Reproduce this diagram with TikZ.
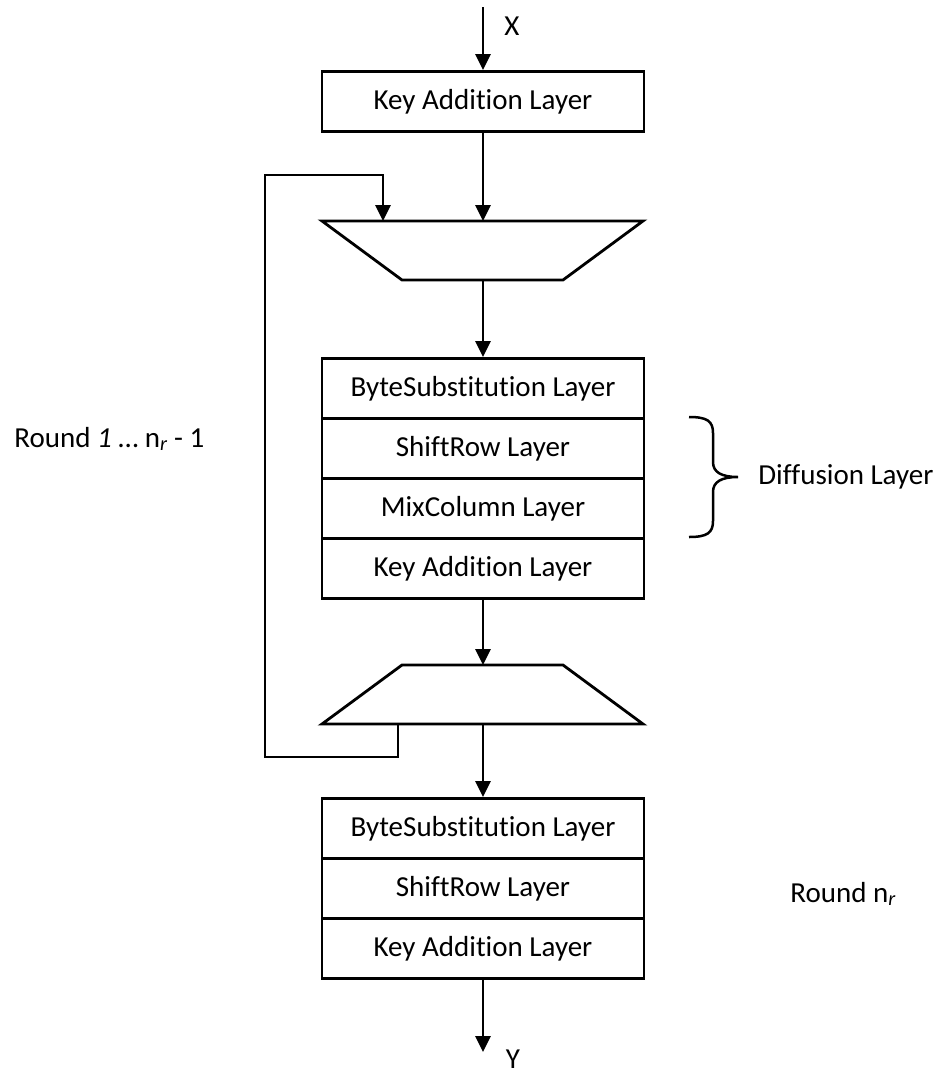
\documentclass[tikz,border=0pt]{standalone}
\usepackage{fontspec}
\setmainfont{Carlito}[Ligatures=NoCommon]
\usetikzlibrary{arrows.meta}
\begin{document}
\begin{tikzpicture}[x=1pt,y=-1pt, line width=2.8pt,
  layer/.style={draw, minimum width=322pt, minimum height=60pt, inner sep=0pt, font=\fontsize{29}{34}\selectfont, anchor=north},
  lbl/.style={font=\fontsize{29}{34}\selectfont, inner sep=0pt},
  arr/.style={-{Triangle[length=16pt,width=15pt]}},
  mux/.style={draw, line join=miter}]
\useasboundingbox (0,0) rectangle (941,1074);

% input
\coordinate (xin) at (483,7);
\node[lbl, anchor=base] (xlab) at (512,35) {X};
\node[layer] (k0) at (483,70) {Key Addition Layer};

% first trapezoid (mux)
\coordinate (t1top) at (483,221);
\coordinate (t1fb) at (383,221);
\coordinate (t1bot) at (483,280);
\draw[mux] (322,221) -- (643,221) -- (563,280) -- (402,280) -- cycle;

% round 1 .. nr-1
\node[layer] (b1) at (483,357) {ByteSubstitution Layer};
\node[layer] (s1) at (483,417) {ShiftRow Layer};
\node[layer] (m1) at (483,477) {MixColumn Layer};
\node[layer] (k1) at (483,537) {Key Addition Layer};

% second trapezoid (demux)
\coordinate (t2top) at (483,665);
\coordinate (t2bot) at (483,724);
\coordinate (t2fb) at (398,724);
\draw[mux] (402,665) -- (563,665) -- (643,724) -- (322,724) -- cycle;

% last round
\node[layer] (b2) at (483,797) {ByteSubstitution Layer};
\node[layer] (s2) at (483,857) {ShiftRow Layer};
\node[layer] (k2) at (483,917) {Key Addition Layer};
\coordinate (yout) at (483,1052);
\node[lbl, anchor=base] (ylab) at (513,1068) {Y};

% connectors
\draw[arr] (xin) -- (k0.north);
\draw[arr] (k0.south) -- (t1top);
\draw[arr] (t1bot) -- (b1.north);
\draw[arr] (k1.south) -- (t2top);
\draw[arr] (t2bot) -- (b2.north);
\draw[arr] (k2.south) -- (yout);

% feedback loop
\coordinate (fb1) at (398,757);
\coordinate (fb2) at (265,757);
\coordinate (fb3) at (265,175);
\coordinate (fb4) at (383,175);
\draw[arr, line join=miter] (t2fb) -- (fb1) -- (fb2) -- (fb3) -- (fb4) -- (t1fb);

% brace
\draw[line width=2.5pt] (689,417) .. controls (707,417) and (713,421) .. (713,433)
  -- (713,462) .. controls (713,472) and (721,477) .. (738,477)
  .. controls (721,477) and (713,482) .. (713,492)
  -- (713,521) .. controls (713,533) and (707,537) .. (689,537);

% labels
\node[lbl, anchor=base west] (diff) at (757,484) {Diffusion Layer};
\node[lbl, anchor=base west] (r1) at (13,447) {Round \textit{1} … n\textsubscript{\itshape r} - 1};
\node[lbl, anchor=base west] (rn) at (789,902) {Round n\textsubscript{\itshape r}};
\end{tikzpicture}
\end{document}
